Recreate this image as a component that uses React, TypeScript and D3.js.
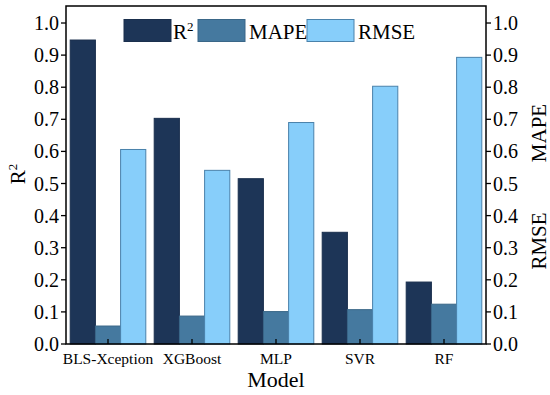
import React from "react";
import * as d3 from "d3";

const categories = ["BLS-Xception", "XGBoost", "MLP", "SVR", "RF"];
const seriesNames = ["R2", "MAPE", "RMSE"];
const r2Values = [0.947, 0.703, 0.515, 0.348, 0.193];
const mapeValues = [0.056, 0.087, 0.101, 0.107, 0.124];
const rmseValues = [0.606, 0.541, 0.69, 0.803, 0.893];
const yTicks = [0, 0.1, 0.2, 0.3, 0.4, 0.5, 0.6, 0.7, 0.8, 0.9, 1.0];

const colors = ["#1d3557", "#45799f", "#87cefa"];
const strokes = ["#1a2f4d", "#3a6788", "#4a82ab"];
const FONT = "'Liberation Serif', 'Times New Roman', serif";

export default function App() {
  const W = 550, H = 395;
  const left = 66, right = 486, top = 6, bottom = 344;
  const y = d3.scaleLinear().domain([0, 1.053]).range([bottom, top]);
  const x = d3.scaleBand().domain(categories).range([left, right]).padding(0);
  const inner = d3.scaleBand().domain(seriesNames).range([0, x.bandwidth()]).paddingInner(0).paddingOuter(1 / 6);
  const series = [r2Values, mapeValues, rmseValues];

  const legend = [
    { name: "R", sup: "2", sx: 124, tx: 173 },
    { name: "MAPE", sup: "", sx: 198, tx: 249 },
    { name: "RMSE", sup: "", sx: 307, tx: 358 },
  ];

  return (
    <svg width={W} height={H} style={{ position: "absolute", left: 0, top: 0, background: "#fff" }} fontFamily={FONT}>
      <rect x={0} y={0} width={W} height={H} fill="#fff" />
      {series.map((vals, si) =>
        categories.map((c, ci) => (
          <rect
            key={`${si}-${ci}`}
            x={(x(c) as number) + (inner(seriesNames[si]) as number)}
            y={y(vals[ci])}
            width={inner.bandwidth()}
            height={bottom - y(vals[ci])}
            fill={colors[si]}
            stroke={strokes[si]}
            strokeWidth={1}
          />
        ))
      )}
      <rect x={left} y={top} width={right - left} height={bottom - top} fill="none" stroke="#000" strokeWidth={1.5} />
      {yTicks.map((t) => (
        <g key={`l${t}`}>
          <line x1={left - 5} x2={left} y1={y(t)} y2={y(t)} stroke="#000" strokeWidth={1.3} />
          <text x={left - 7} y={y(t)} dy="0.35em" textAnchor="end" fontSize={20} fill="#000">
            {d3.format(".1f")(t)}
          </text>
          <line x1={right} x2={right + 5} y1={y(t)} y2={y(t)} stroke="#000" strokeWidth={1.3} />
          <text x={right + 7} y={y(t)} dy="0.35em" textAnchor="start" fontSize={20} fill="#000">
            {d3.format(".1f")(t)}
          </text>
        </g>
      ))}
      {categories.map((c) => {
        const cx = (x(c) as number) + x.bandwidth() / 2;
        return (
          <g key={`b${c}`}>
            <line x1={cx} x2={cx} y1={bottom} y2={bottom - 5} stroke="#000" strokeWidth={1.3} />
            <text x={cx} y={364} textAnchor="middle" fontSize={15.5} fill="#000">
              {c}
            </text>
          </g>
        );
      })}
      <text x={(left + right) / 2} y={387} textAnchor="middle" fontSize={22} fill="#000">
        Model
      </text>
      <text transform={`translate(25,174) rotate(-90)`} textAnchor="middle" fontSize={21} fill="#000">
        R<tspan dy={-8} fontSize={13}>2</tspan>
      </text>
      <text transform={`translate(546,133) rotate(-90)`} textAnchor="middle" fontSize={21} fill="#000">
        MAPE
      </text>
      <text transform={`translate(546,241) rotate(-90)`} textAnchor="middle" fontSize={21} fill="#000">
        RMSE
      </text>
      {legend.map((l, i) => (
        <g key={l.name}>
          <rect x={l.sx} y={19.5} width={47} height={22} fill={colors[i]} stroke={strokes[i]} strokeWidth={1} />
          <text x={l.tx} y={39} fontSize={21} fill="#000">
            {l.name}
            {l.sup && <tspan dy={-8} fontSize={13}>{l.sup}</tspan>}
          </text>
        </g>
      ))}
    </svg>
  );
}
